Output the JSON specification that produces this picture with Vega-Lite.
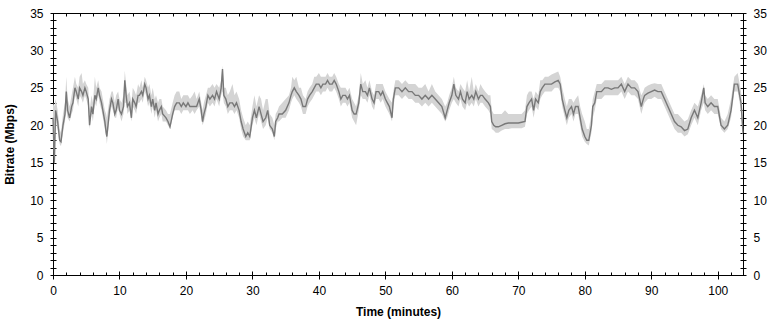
{
"$schema": "https://vega.github.io/schema/vega-lite/v6.json",
"width": 690, "height": 262,
"autosize": {"type": "none"},
"padding": {"left": 53, "top": 13, "right": 30, "bottom": 49},
"background": "white",
"config": {
 "view": {"stroke": "#000", "strokeWidth": 1},
 "axis": {"labelFont": "Liberation Sans", "labelFontSize": 12, "labelColor": "#000", "titleFont": "Liberation Sans", "titleFontSize": 12, "titleFontWeight": "bold", "titleColor": "#000", "tickColor": "#000", "domain": false, "grid": false, "labelOverlap": false, "labelFlush": false, "labelBound": false}
},
"data": {"values": [
{"t":0,"v":21,"lo":19,"hi":23},{"t":0.2,"v":15,"lo":14.5,"hi":22.5},{"t":0.4,"v":22,"lo":20.5,"hi":23.5},{"t":0.7,"v":20.5,"lo":19.5,"hi":22},{"t":1.0,"v":18,"lo":17.5,"hi":19.5},{"t":1.2,"v":17.8,"lo":17.2,"hi":19},{"t":1.5,"v":20,"lo":19,"hi":21.5},{"t":1.8,"v":21.5,"lo":20.5,"hi":23},{"t":2.0,"v":24.5,"lo":22,"hi":26.5},{"t":2.2,"v":22,"lo":21,"hi":23.5},{"t":2.5,"v":21,"lo":20.5,"hi":22.5},{"t":2.8,"v":22.5,"lo":21.5,"hi":24},{"t":3.0,"v":23,"lo":22,"hi":25},{"t":3.3,"v":25,"lo":24,"hi":26.5},{"t":3.5,"v":24.5,"lo":23.5,"hi":25.5},{"t":3.8,"v":23.5,"lo":22.5,"hi":25},{"t":4.0,"v":25,"lo":24,"hi":26.5},{"t":4.3,"v":24.5,"lo":23.5,"hi":27},{"t":4.5,"v":24,"lo":23,"hi":25.5},{"t":4.8,"v":25,"lo":24,"hi":26},{"t":5.0,"v":24.5,"lo":23.5,"hi":25.5},{"t":5.3,"v":23.5,"lo":22.5,"hi":25},{"t":5.5,"v":20,"lo":19.5,"hi":22},{"t":5.8,"v":22.5,"lo":21.5,"hi":24},{"t":6.0,"v":21.5,"lo":20.5,"hi":23},{"t":6.3,"v":24,"lo":23,"hi":26.5},{"t":6.5,"v":23.5,"lo":22.5,"hi":25},{"t":6.8,"v":25,"lo":24,"hi":26},{"t":7.0,"v":24,"lo":23,"hi":25},{"t":7.3,"v":23,"lo":22,"hi":24.5},{"t":7.5,"v":22,"lo":21,"hi":23.5},{"t":7.8,"v":20.5,"lo":19.5,"hi":22},{"t":8.0,"v":19,"lo":18.5,"hi":21.5},{"t":8.1,"v":18.5,"lo":17.5,"hi":21},{"t":8.5,"v":22,"lo":21,"hi":23.5},{"t":8.8,"v":23.5,"lo":22.5,"hi":24.5},{"t":9.0,"v":23,"lo":22,"hi":24.5},{"t":9.3,"v":21.5,"lo":21,"hi":23},{"t":9.5,"v":22,"lo":21,"hi":24},{"t":9.8,"v":23.5,"lo":22.5,"hi":24.5},{"t":10.0,"v":22,"lo":21.5,"hi":23.5},{"t":10.3,"v":21.5,"lo":20.5,"hi":23},{"t":10.6,"v":22.5,"lo":21.5,"hi":24},{"t":10.8,"v":26,"lo":23,"hi":27.3},{"t":11.0,"v":24,"lo":23,"hi":25.5},{"t":11.2,"v":22.5,"lo":21.5,"hi":24},{"t":11.5,"v":23,"lo":22,"hi":24.5},{"t":11.8,"v":21,"lo":20.5,"hi":23},{"t":12.0,"v":23.5,"lo":22.5,"hi":25},{"t":12.3,"v":23,"lo":22,"hi":24.5},{"t":12.5,"v":22.5,"lo":21.5,"hi":24},{"t":12.8,"v":24,"lo":23,"hi":25.5},{"t":13.0,"v":24,"lo":23,"hi":25},{"t":13.3,"v":24.5,"lo":23.5,"hi":26},{"t":13.5,"v":24,"lo":23,"hi":25},{"t":13.8,"v":25.5,"lo":24.5,"hi":26.5},{"t":14.0,"v":25,"lo":24,"hi":26},{"t":14.3,"v":23.5,"lo":22.5,"hi":25},{"t":14.5,"v":24,"lo":23,"hi":25.5},{"t":14.8,"v":22.5,"lo":21.5,"hi":24},{"t":15.0,"v":23.5,"lo":22.5,"hi":25},{"t":15.3,"v":22,"lo":21,"hi":23.5},{"t":15.5,"v":23,"lo":22,"hi":24},{"t":15.8,"v":21.5,"lo":20.5,"hi":23},{"t":16.0,"v":22,"lo":21,"hi":23.5},{"t":16.3,"v":22.5,"lo":21.5,"hi":23.5},{"t":16.5,"v":21.5,"lo":20.5,"hi":22.5},{"t":17.0,"v":21,"lo":20.5,"hi":22},{"t":17.3,"v":20.5,"lo":20,"hi":21.5},{"t":17.6,"v":19.8,"lo":19.5,"hi":21.5},{"t":18.0,"v":21.5,"lo":21,"hi":23},{"t":18.3,"v":22.5,"lo":22,"hi":24},{"t":18.6,"v":23,"lo":22,"hi":24.5},{"t":19.0,"v":23,"lo":22,"hi":24.5},{"t":19.3,"v":22.5,"lo":21.5,"hi":23.5},{"t":19.6,"v":23,"lo":22,"hi":24},{"t":20.0,"v":22.5,"lo":22,"hi":24},{"t":20.3,"v":23,"lo":22,"hi":24},{"t":20.6,"v":22.5,"lo":21.5,"hi":23.5},{"t":21.0,"v":22.5,"lo":22,"hi":24},{"t":21.3,"v":22.5,"lo":21.5,"hi":24.5},{"t":21.6,"v":22.5,"lo":22,"hi":23.5},{"t":22.0,"v":23.5,"lo":22.5,"hi":24.5},{"t":22.3,"v":22,"lo":21,"hi":23},{"t":22.5,"v":20.5,"lo":20,"hi":22},{"t":22.7,"v":21.5,"lo":20.5,"hi":23},{"t":23.0,"v":22.5,"lo":21.5,"hi":24},{"t":23.3,"v":24,"lo":23,"hi":25},{"t":23.6,"v":23.5,"lo":22.5,"hi":25},{"t":24.0,"v":24,"lo":23,"hi":25.5},{"t":24.3,"v":23.5,"lo":22.5,"hi":25},{"t":24.6,"v":24.5,"lo":23.5,"hi":25.5},{"t":25.0,"v":23.5,"lo":22.5,"hi":25},{"t":25.3,"v":25,"lo":24,"hi":26},{"t":25.5,"v":27.5,"lo":24.5,"hi":28},{"t":25.7,"v":24,"lo":23,"hi":25},{"t":26.0,"v":23.5,"lo":22.5,"hi":25},{"t":26.3,"v":22.5,"lo":21.5,"hi":24},{"t":26.6,"v":23,"lo":22,"hi":24.5},{"t":27.0,"v":23,"lo":22,"hi":25.5},{"t":27.3,"v":22.5,"lo":21.5,"hi":24},{"t":27.6,"v":23,"lo":22,"hi":24.5},{"t":28.0,"v":22,"lo":21,"hi":23.5},{"t":28.3,"v":20.5,"lo":19.5,"hi":22},{"t":28.6,"v":19.5,"lo":18.5,"hi":21},{"t":29.0,"v":18.5,"lo":18,"hi":20},{"t":29.3,"v":19,"lo":18,"hi":20.5},{"t":29.6,"v":18.5,"lo":18,"hi":20},{"t":30.0,"v":21,"lo":20,"hi":22.5},{"t":30.3,"v":22,"lo":21,"hi":24},{"t":30.6,"v":21,"lo":20,"hi":22.5},{"t":31.0,"v":22.5,"lo":21.5,"hi":24},{"t":31.3,"v":21.5,"lo":20.5,"hi":23.5},{"t":31.6,"v":20.5,"lo":19.5,"hi":22},{"t":32.0,"v":21,"lo":20,"hi":23.5},{"t":32.3,"v":22,"lo":21,"hi":23.5},{"t":32.6,"v":20,"lo":19.5,"hi":21.5},{"t":33.0,"v":19.5,"lo":19,"hi":21},{"t":33.3,"v":18.5,"lo":18,"hi":20},{"t":33.5,"v":20.5,"lo":19.5,"hi":21.5},{"t":33.8,"v":21,"lo":20.5,"hi":22},{"t":34.0,"v":21.5,"lo":20.5,"hi":22.5},{"t":34.5,"v":21.5,"lo":21,"hi":23},{"t":35.0,"v":22,"lo":21,"hi":23.5},{"t":35.5,"v":23,"lo":22,"hi":24},{"t":35.8,"v":24,"lo":23,"hi":25},{"t":36.0,"v":24.5,"lo":23.5,"hi":26.5},{"t":36.3,"v":25,"lo":24,"hi":26},{"t":36.6,"v":24.5,"lo":23.5,"hi":26.5},{"t":37.0,"v":24,"lo":23,"hi":25},{"t":37.3,"v":23.5,"lo":22.5,"hi":25},{"t":37.6,"v":22.5,"lo":21.5,"hi":24},{"t":38.0,"v":22.5,"lo":21.5,"hi":23.5},{"t":38.3,"v":23.5,"lo":22.5,"hi":24.5},{"t":38.6,"v":24,"lo":23,"hi":25},{"t":39.0,"v":24.5,"lo":23.5,"hi":25.5},{"t":39.3,"v":25,"lo":24,"hi":26.5},{"t":39.6,"v":25.5,"lo":24.5,"hi":26.5},{"t":40.0,"v":25.5,"lo":24.5,"hi":27},{"t":40.3,"v":25,"lo":24,"hi":26.5},{"t":40.6,"v":25.5,"lo":24.5,"hi":26.5},{"t":41.0,"v":25.5,"lo":24.5,"hi":26.5},{"t":41.3,"v":26,"lo":25,"hi":27},{"t":41.6,"v":25.5,"lo":24.5,"hi":26.5},{"t":42.0,"v":25.5,"lo":24.5,"hi":26.5},{"t":42.3,"v":26,"lo":25,"hi":27},{"t":42.6,"v":25.5,"lo":24.5,"hi":26.5},{"t":43.0,"v":24.5,"lo":23.5,"hi":25.5},{"t":43.3,"v":23.5,"lo":22.5,"hi":25},{"t":43.6,"v":24,"lo":23,"hi":25},{"t":44.0,"v":24,"lo":23,"hi":25},{"t":44.3,"v":23.5,"lo":22.5,"hi":24.5},{"t":44.6,"v":24,"lo":23,"hi":25},{"t":45.0,"v":22,"lo":21,"hi":23.5},{"t":45.3,"v":21.5,"lo":20.5,"hi":23},{"t":45.6,"v":21.5,"lo":20,"hi":22.5},{"t":46.0,"v":23,"lo":22,"hi":24},{"t":46.3,"v":25.5,"lo":24,"hi":27},{"t":46.6,"v":24.5,"lo":23.5,"hi":25.5},{"t":47.0,"v":24.5,"lo":23.5,"hi":26},{"t":47.3,"v":24,"lo":23,"hi":25},{"t":47.6,"v":25,"lo":24,"hi":26},{"t":48.0,"v":23.5,"lo":22.5,"hi":24.5},{"t":48.3,"v":23,"lo":22,"hi":24},{"t":48.6,"v":24.5,"lo":23.5,"hi":25.5},{"t":49.0,"v":24.5,"lo":23.5,"hi":25.5},{"t":49.3,"v":24,"lo":23,"hi":25.5},{"t":49.6,"v":24.5,"lo":23.5,"hi":25.5},{"t":50.0,"v":23.5,"lo":22.5,"hi":24.5},{"t":50.3,"v":23,"lo":22,"hi":24},{"t":50.6,"v":22.5,"lo":21.5,"hi":23.5},{"t":51.0,"v":21,"lo":20.5,"hi":23},{"t":51.2,"v":23.5,"lo":22.5,"hi":24.5},{"t":51.5,"v":25,"lo":24,"hi":26},{"t":51.8,"v":25,"lo":24,"hi":26},{"t":52.0,"v":25,"lo":24,"hi":26},{"t":52.5,"v":24.5,"lo":23.5,"hi":25.5},{"t":53.0,"v":25,"lo":24,"hi":26},{"t":53.5,"v":24.5,"lo":23.5,"hi":25.5},{"t":54.0,"v":24.5,"lo":23.5,"hi":25.5},{"t":54.5,"v":24,"lo":23,"hi":25.5},{"t":55.0,"v":24,"lo":23,"hi":25},{"t":55.5,"v":23.5,"lo":22.5,"hi":25},{"t":56.0,"v":24,"lo":23,"hi":25.5},{"t":56.5,"v":23.5,"lo":22.5,"hi":24.5},{"t":57.0,"v":24,"lo":23,"hi":25.5},{"t":57.5,"v":23.5,"lo":22.5,"hi":24.5},{"t":58.0,"v":23,"lo":22,"hi":24},{"t":58.5,"v":22.5,"lo":21.5,"hi":23.5},{"t":59.0,"v":21,"lo":20.5,"hi":22.5},{"t":59.3,"v":22,"lo":21,"hi":23},{"t":59.6,"v":23,"lo":22,"hi":24},{"t":60.0,"v":24,"lo":23,"hi":25},{"t":60.3,"v":25.5,"lo":23.5,"hi":26.5},{"t":60.6,"v":24,"lo":23,"hi":25},{"t":61.0,"v":23.5,"lo":22.5,"hi":24.5},{"t":61.3,"v":24.5,"lo":23.5,"hi":25.5},{"t":61.6,"v":23.5,"lo":22.5,"hi":25},{"t":62.0,"v":23,"lo":22,"hi":24.5},{"t":62.3,"v":24.5,"lo":23,"hi":26},{"t":62.6,"v":23.5,"lo":22.5,"hi":24.5},{"t":63.0,"v":24,"lo":23,"hi":26.5},{"t":63.3,"v":23.5,"lo":22.5,"hi":24.5},{"t":63.6,"v":24.5,"lo":23.5,"hi":25.5},{"t":64.0,"v":23.5,"lo":22.5,"hi":24.5},{"t":64.3,"v":24,"lo":23,"hi":25.5},{"t":64.6,"v":24,"lo":23,"hi":25},{"t":65.0,"v":23.5,"lo":22.5,"hi":24.5},{"t":65.5,"v":23,"lo":22,"hi":24},{"t":65.8,"v":22.5,"lo":21.5,"hi":24},{"t":66.0,"v":20.5,"lo":19.5,"hi":22},{"t":66.3,"v":20,"lo":19.3,"hi":21.5},{"t":66.6,"v":19.8,"lo":19,"hi":21.5},{"t":67.0,"v":19.8,"lo":19,"hi":21.5},{"t":67.5,"v":20,"lo":19.3,"hi":21.5},{"t":68.0,"v":20.2,"lo":19.5,"hi":22},{"t":68.5,"v":20.3,"lo":19.5,"hi":21.5},{"t":69.0,"v":20.3,"lo":19.6,"hi":21.5},{"t":69.5,"v":20.3,"lo":19.6,"hi":21.5},{"t":70.0,"v":20.3,"lo":19.6,"hi":21.5},{"t":70.5,"v":20.4,"lo":19.6,"hi":21.5},{"t":71.0,"v":20.5,"lo":19.8,"hi":22},{"t":71.3,"v":22.5,"lo":21.5,"hi":24},{"t":71.6,"v":23,"lo":22,"hi":24.5},{"t":72.0,"v":23.5,"lo":22.5,"hi":24.5},{"t":72.3,"v":22,"lo":21,"hi":23.5},{"t":72.6,"v":23.5,"lo":22.5,"hi":24.5},{"t":73.0,"v":23,"lo":22,"hi":24},{"t":73.3,"v":24.5,"lo":23.5,"hi":26},{"t":73.6,"v":25,"lo":24,"hi":26},{"t":74.0,"v":25.5,"lo":24.5,"hi":26.5},{"t":74.5,"v":25.5,"lo":24.5,"hi":26.5},{"t":75.0,"v":25.5,"lo":24.5,"hi":26.8},{"t":75.5,"v":25.8,"lo":25,"hi":27},{"t":76.0,"v":26,"lo":25,"hi":27.2},{"t":76.3,"v":25.5,"lo":24.5,"hi":26.5},{"t":76.6,"v":23.5,"lo":22.5,"hi":25},{"t":77.0,"v":22,"lo":21,"hi":23.5},{"t":77.3,"v":21,"lo":20,"hi":22.5},{"t":77.6,"v":22,"lo":21,"hi":23.5},{"t":78.0,"v":22.5,"lo":21.5,"hi":23.5},{"t":78.3,"v":21.5,"lo":20.5,"hi":23},{"t":78.6,"v":22.5,"lo":21.5,"hi":23.5},{"t":79.0,"v":22.5,"lo":21.5,"hi":24},{"t":79.3,"v":21,"lo":20,"hi":22.5},{"t":79.6,"v":19.5,"lo":18.5,"hi":21.5},{"t":80.0,"v":18.5,"lo":17.8,"hi":20.5},{"t":80.3,"v":18,"lo":17.5,"hi":19.5},{"t":80.6,"v":18,"lo":17.3,"hi":19.5},{"t":81.0,"v":20,"lo":19,"hi":21.5},{"t":81.2,"v":22.5,"lo":21,"hi":23.5},{"t":81.5,"v":23,"lo":22,"hi":24.5},{"t":81.8,"v":24.5,"lo":23.5,"hi":25.5},{"t":82.0,"v":24.5,"lo":23.5,"hi":25.5},{"t":82.5,"v":24.5,"lo":23.5,"hi":25.5},{"t":83.0,"v":25,"lo":24,"hi":26},{"t":83.5,"v":25,"lo":24,"hi":26},{"t":84.0,"v":24.8,"lo":24,"hi":26},{"t":84.5,"v":25,"lo":24,"hi":26},{"t":85.0,"v":25,"lo":24,"hi":26},{"t":85.5,"v":25.5,"lo":24.5,"hi":26.5},{"t":86.0,"v":24.5,"lo":23.5,"hi":25.5},{"t":86.5,"v":25.5,"lo":24.5,"hi":26.5},{"t":87.0,"v":25,"lo":24,"hi":26},{"t":87.5,"v":25,"lo":24,"hi":26},{"t":88.0,"v":24.5,"lo":23.5,"hi":25.5},{"t":88.5,"v":22.5,"lo":21.5,"hi":24},{"t":88.8,"v":23.5,"lo":22.5,"hi":24.5},{"t":89.0,"v":24,"lo":23,"hi":25},{"t":89.5,"v":24.3,"lo":23.5,"hi":25.3},{"t":90.0,"v":24.5,"lo":23.5,"hi":25.5},{"t":90.5,"v":24.7,"lo":23.8,"hi":25.6},{"t":91.0,"v":24.5,"lo":23.5,"hi":25.5},{"t":91.5,"v":24.5,"lo":23.5,"hi":25.5},{"t":92.0,"v":23.5,"lo":22.5,"hi":24.5},{"t":92.5,"v":22.5,"lo":21.5,"hi":23.5},{"t":93.0,"v":21.5,"lo":20.5,"hi":22.5},{"t":93.5,"v":20.5,"lo":19.5,"hi":21.5},{"t":94.0,"v":20,"lo":19,"hi":21.5},{"t":94.5,"v":19.8,"lo":19,"hi":21},{"t":95.0,"v":19.3,"lo":18.5,"hi":20.5},{"t":95.5,"v":19.5,"lo":18.8,"hi":20.8},{"t":96.0,"v":21,"lo":20,"hi":22},{"t":96.5,"v":22,"lo":21,"hi":23},{"t":97.0,"v":21,"lo":20,"hi":22.5},{"t":97.5,"v":23,"lo":22,"hi":24},{"t":97.9,"v":25,"lo":23,"hi":25.5},{"t":98.1,"v":23,"lo":22,"hi":24},{"t":98.5,"v":22.5,"lo":21.5,"hi":23.5},{"t":99.0,"v":23,"lo":22,"hi":24},{"t":99.5,"v":22.5,"lo":21.5,"hi":23.5},{"t":100.0,"v":22.5,"lo":21.5,"hi":23.5},{"t":100.5,"v":20,"lo":19.5,"hi":21},{"t":101.0,"v":19.5,"lo":19,"hi":20.5},{"t":101.5,"v":20,"lo":19.5,"hi":21.5},{"t":102.0,"v":22,"lo":21,"hi":23.5},{"t":102.5,"v":25.5,"lo":24.5,"hi":26.5},{"t":103.0,"v":25.5,"lo":24.5,"hi":27},{"t":103.5,"v":23,"lo":22,"hi":24.5},{"t":103.8,"v":19,"lo":18,"hi":21}
]},
"layer": [
 {"mark": {"type": "area", "color": "#d4d4d4"},
  "encoding": {
   "x": {"field": "t", "type": "quantitative", "scale": {"domain": [0, 103.8], "nice": false, "zero": false},
         "axis": {"orient": "bottom", "values": [0,10,20,30,40,50,60,70,80,90,100], "offset": -4, "tickSize": 8, "labelPadding": 6, "title": "Time (minutes)", "titlePadding": 10, "format": "d"}},
   "y": {"field": "lo", "type": "quantitative", "scale": {"domain": [0, 35], "nice": false},
         "axis": {"orient": "left", "values": [0,1,2,3,4,5,6,7,8,9,10,11,12,13,14,15,16,17,18,19,20,21,22,23,24,25,26,27,28,29,30,31,32,33,34,35], "offset": -3, "tickSize": 6, "labelPadding": 7, "labelExpr": "datum.value % 5 === 0 ? datum.label : ''", "title": "Bitrate (Mbps)", "titlePadding": 13}},
   "y2": {"field": "hi"}
  }},
 {"mark": {"type": "line", "color": "#787878", "strokeWidth": 1.4},
  "encoding": {
   "x": {"field": "t", "type": "quantitative",
         "axis": {"orient": "top", "values": [0,2,4,6,8,10,12,14,16,18,20,22,24,26,28,30,32,34,36,38,40,42,44,46,48,50,52,54,56,58,60,62,64,66,68,70,72,74,76,78,80,82,84,86,88,90,92,94,96,98,100,102], "labels": false, "tickSize": -3, "title": null}},
   "y": {"field": "v", "type": "quantitative",
         "axis": {"orient": "right", "values": [0,1,2,3,4,5,6,7,8,9,10,11,12,13,14,15,16,17,18,19,20,21,22,23,24,25,26,27,28,29,30,31,32,33,34,35], "offset": -3, "tickSize": 6, "labelPadding": 7, "labelExpr": "datum.value % 5 === 0 ? datum.label : ''", "title": null}}
  }},
 {"mark": {"type": "line", "strokeOpacity": 0},
  "encoding": {
   "x": {"field": "t", "type": "quantitative",
         "axis": {"orient": "bottom", "values": [2,4,6,8,12,14,16,18,22,24,26,28,32,34,36,38,42,44,46,48,52,54,56,58,62,64,66,68,72,74,76,78,82,84,86,88,92,94,96,98,102], "labels": false, "tickSize": -3, "title": null}},
   "y": {"field": "v", "type": "quantitative", "axis": null}
  }}
],
"resolve": {"axis": {"x": "independent", "y": "independent"}}
}
